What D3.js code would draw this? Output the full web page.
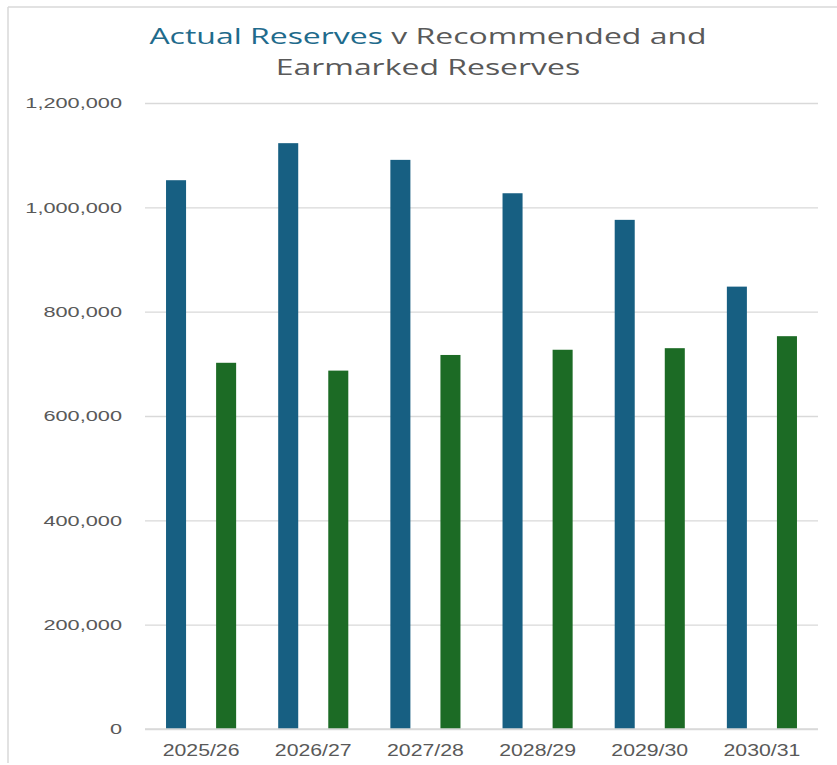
<!DOCTYPE html>
<html>
<head>
<meta charset="utf-8">
<script src="https://cdn.jsdelivr.net/npm/d3@7"></script>
<style>
  html, body { margin: 0; padding: 0; background: #fff; }
  svg { display: block; }
</style>
</head>
<body>
<svg id="chart" width="837" height="765"></svg>
<script>
const categories = ["2025/26", "2026/27", "2027/28", "2028/29", "2029/30", "2030/31"];
const seriesNames = ["Actual Reserves", "Recommended and Earmarked Reserves"];
const actualReserves = [1052000, 1123000, 1091000, 1027000, 976000, 848000];
const recommendedEarmarked = [702000, 687000, 717000, 727000, 730000, 753000];
const yTicks = [0, 200000, 400000, 600000, 800000, 1000000, 1200000];
const colors = ["#175f82", "#1c6b25"];

(function () {
const svg = d3.select("#chart");
const W = 837, H = 765;

// outer frame lines (top and left)
svg.append("line").attr("x1", 8).attr("x2", W).attr("y1", 7).attr("y2", 7)
  .attr("stroke", "#d9d9d9").attr("stroke-width", 1.5);
svg.append("line").attr("x1", 8).attr("x2", 8).attr("y1", 7).attr("y2", 763)
  .attr("stroke", "#d9d9d9").attr("stroke-width", 1.5);

const pLeft = 145, pRight = 818, pTop = 103, pBottom = 729;

const y = d3.scaleLinear().domain([0, 1200000]).range([pBottom, pTop]);
const x0 = d3.scaleBand().domain(categories).range([pLeft, pRight])
  .paddingInner(0.375).paddingOuter(0.1875);
const x1 = d3.scaleBand().domain(seriesNames).range([0, x0.bandwidth()])
  .paddingInner(0.6).paddingOuter(0);

const labelFont = "'Liberation Sans', Arial, sans-serif";

// gridlines + y labels
const yAxis = d3.axisLeft(y).tickValues(yTicks)
  .tickSize(-(pRight - pLeft)).tickPadding(22)
  .tickFormat(d => d === 0 ? "0" : d3.format(",")(d));
const gy = svg.append("g").attr("transform", `translate(${pLeft},0)`).call(yAxis);
gy.select(".domain").remove();
gy.selectAll(".tick line").attr("stroke", "#d9d9d9").attr("stroke-width", 1.3);
const sy = 1.45;
gy.selectAll(".tick text").attr("fill", "#595959")
  .style("font-family", labelFont).style("font-size", "15px")
  .attr("x", -23 / sy).attr("transform", `scale(${sy},1)`);

// bars
const data = categories.map((c, i) => ({ cat: c, vals: [actualReserves[i], recommendedEarmarked[i]] }));
const groups = svg.append("g").selectAll("g").data(data).join("g")
  .attr("transform", d => `translate(${x0(d.cat)},0)`);
groups.selectAll("rect").data(d => d.vals.map((v, j) => ({ name: seriesNames[j], v, j })))
  .join("rect")
  .attr("x", d => x1(d.name))
  .attr("width", x1.bandwidth())
  .attr("y", d => y(d.v))
  .attr("height", d => pBottom - y(d.v))
  .attr("fill", d => colors[d.j]);

// baseline
svg.append("line").attr("x1", pLeft).attr("x2", pRight).attr("y1", pBottom).attr("y2", pBottom)
  .attr("stroke", "#d9d9d9").attr("stroke-width", 1.5);

// x axis labels
const xAxis = d3.axisBottom(x0).tickSize(0).tickPadding(15.5);
const gx = svg.append("g").attr("transform", `translate(0,${pBottom})`).call(xAxis);
gx.select(".domain").remove();
const sx = 1.33;
gx.selectAll(".tick text").attr("fill", "#595959")
  .style("font-family", labelFont).style("font-size", "16px")
  .attr("transform", `scale(${sx},1)`);

// title
const st = 1.42;
const title = svg.append("text").attr("text-anchor", "middle")
  .attr("transform", `scale(${st},1)`)
  .style("font-family", "'Open Sans', 'Noto Sans', sans-serif").style("font-size", "22.5px");
const l1 = title.append("tspan").attr("x", 428 / st).attr("y", 44);
l1.append("tspan").attr("fill", "#1f6b8c").text("Actual Reserves");
l1.append("tspan").attr("fill", "#595959").text(" v Recommended and");
title.append("tspan").attr("x", 428 / st).attr("y", 75).attr("fill", "#595959").text("Earmarked Reserves");
})();
</script>
</body>
</html>
